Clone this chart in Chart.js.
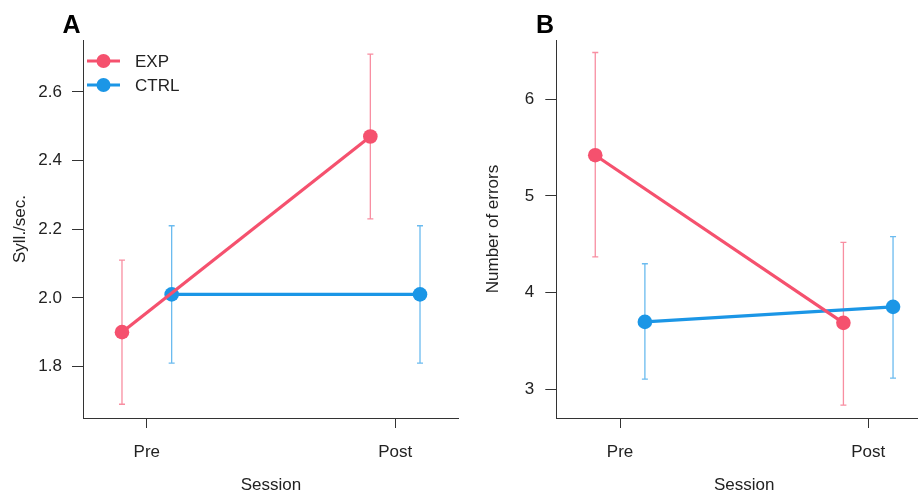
<!DOCTYPE html>
<html>
<head>
<meta charset="utf-8">
<script src="https://cdn.jsdelivr.net/npm/chart.js"></script>
<style>
  html, body { margin: 0; padding: 0; background: #fff; }
  body { width: 918px; height: 491px; overflow: hidden; position: relative; }
  canvas { position: absolute; top: 0; }
  #chartA { left: 0; }
  #chartB { left: 459px; }
</style>
</head>
<body>
<canvas id="chartA" width="459" height="491"></canvas>
<canvas id="chartB" width="473" height="491"></canvas>
<script>
// ===== Data =====
const sessions = ['Pre', 'Post'];
const groups = ['EXP', 'CTRL'];

// Panel A - speech rate (syll./sec.)
const expRate = [1.90, 2.47];
const expRateLow = [1.69, 2.23];
const expRateHigh = [2.11, 2.71];
const ctrlRate = [2.01, 2.01];
const ctrlRateLow = [1.81, 1.81];
const ctrlRateHigh = [2.21, 2.21];
const rateTicks = [1.8, 2.0, 2.2, 2.4, 2.6];

// Panel B - number of errors
const expErrors = [5.42, 3.69];
const expErrorsLow = [4.37, 2.84];
const expErrorsHigh = [6.48, 4.52];
const ctrlErrors = [3.70, 3.855];
const ctrlErrorsLow = [3.11, 3.12];
const ctrlErrorsHigh = [4.30, 4.58];
const errorTicks = [3, 4, 5, 6];

const expColor = '#f5516e';
const ctrlColor = '#1b96e6';
const dodge = 0.1;
const FONT = '"Liberation Sans", Arial, sans-serif';
const TEXT = '#222';
const AXIS = '#333';

Chart.defaults.font.family = FONT;
Chart.defaults.font.size = 17;
Chart.defaults.color = TEXT;

// Error bars drawn under the points
const errorBars = {
  id: 'errorBars',
  beforeDatasetsDraw(chart) {
    const { ctx, scales: { x, y } } = chart;
    chart.data.datasets.forEach(ds => {
      ctx.save();
      ctx.strokeStyle = ds.errorColor;
      ctx.lineWidth = 1.3;
      ds.data.forEach((p, i) => {
        const px = x.getPixelForValue(p.x);
        const top = y.getPixelForValue(ds.high[i]);
        const bot = y.getPixelForValue(ds.low[i]);
        ctx.beginPath();
        ctx.moveTo(px, top); ctx.lineTo(px, bot);
        ctx.moveTo(px - 3, top); ctx.lineTo(px + 3, top);
        ctx.moveTo(px - 3, bot); ctx.lineTo(px + 3, bot);
        ctx.stroke();
      });
      ctx.restore();
    });
  }
};

// Panel letter + legend
const panelExtras = {
  id: 'panelExtras',
  afterDraw(chart, args, opts) {
    const ctx = chart.ctx;
    ctx.save();
    ctx.fillStyle = '#000';
    ctx.font = 'bold 25px ' + FONT;
    ctx.textAlign = 'center';
    ctx.textBaseline = 'alphabetic';
    ctx.fillText(opts.letter, opts.letterX, 33);
    if (opts.legend) {
      chart.data.datasets.forEach((ds, i) => {
        const ly = 61 + i * 24;
        ctx.strokeStyle = ds.borderColor;
        ctx.lineWidth = 3;
        ctx.beginPath();
        ctx.moveTo(87, ly); ctx.lineTo(120, ly);
        ctx.stroke();
        ctx.fillStyle = ds.borderColor;
        ctx.beginPath();
        ctx.arc(103.5, ly, 7, 0, Math.PI * 2);
        ctx.fill();
        ctx.fillStyle = TEXT;
        ctx.font = '17px ' + FONT;
        ctx.textAlign = 'left';
        ctx.textBaseline = 'middle';
        ctx.fillText(ds.label, 135, ly + 1);
      });
    }
    ctx.restore();
  }
};

function series(label, means, low, high, color, offset) {
  return {
    label: label,
    data: means.map((v, i) => ({ x: i + 1 + offset, y: v })),
    low: low,
    high: high,
    borderColor: color,
    backgroundColor: color,
    errorColor: Chart.helpers.color(color).alpha(0.65).rgbString(),
    borderWidth: 3.2,
    pointRadius: 7.3,
    pointBorderWidth: 0,
    pointBackgroundColor: color,
    tension: 0,
    clip: false
  };
}

function makePanel(id, p) {
  return new Chart(document.getElementById(id), {
    type: 'line',
    data: {
      datasets: [
        series(groups[0], p.exp, p.expLow, p.expHigh, expColor, -dodge),
        series(groups[1], p.ctrl, p.ctrlLow, p.ctrlHigh, ctrlColor, dodge)
      ]
    },
    options: {
      responsive: false,
      animation: false,
      layout: { autoPadding: false, padding: { top: 40, left: 0, right: 0, bottom: 0 } },
      plugins: {
        legend: { display: false },
        tooltip: { enabled: false },
        panelExtras: { letter: p.letter, letterX: p.letterX, legend: p.legend }
      },
      scales: {
        x: {
          type: 'linear',
          min: 0.743,
          max: 2.257,
          afterBuildTicks: s => { s.ticks = sessions.map((_, i) => ({ value: i + 1 })); },
          ticks: { callback: v => sessions[v - 1], padding: 14, color: TEXT },
          grid: { drawOnChartArea: false, tickLength: 10, color: AXIS, lineWidth: 1 },
          border: { color: AXIS, width: 1 },
          title: { display: true, text: 'Session', color: TEXT, font: { size: 17, lineHeight: 0.7 }, padding: 0 },
          afterFit: s => { s.height = 73; }
        },
        y: {
          type: 'linear',
          min: p.yMin,
          max: p.yMax,
          afterBuildTicks: s => { s.ticks = p.ticks.map(v => ({ value: v })); },
          ticks: { callback: p.fmt, padding: p.tickPad, color: TEXT },
          grid: { drawOnChartArea: false, tickLength: 11, color: AXIS, lineWidth: 1 },
          border: { color: AXIS, width: 1 },
          title: { display: true, text: p.yTitle, color: TEXT, font: { size: 17 }, padding: { top: p.titlePad, bottom: 0 } },
          afterFit: s => { s.width = p.yWidth; }
        }
      }
    },
    plugins: [errorBars, panelExtras]
  });
}

makePanel('chartA', {
  exp: expRate, expLow: expRateLow, expHigh: expRateHigh,
  ctrl: ctrlRate, ctrlLow: ctrlRateLow, ctrlHigh: ctrlRateHigh,
  ticks: rateTicks, yMin: 1.65, yMax: 2.751, fmt: v => v.toFixed(1),
  yTitle: 'Syll./sec.', yWidth: 83, titlePad: 10, tickPad: 10,
  letter: 'A', letterX: 71.5, legend: true
});

makePanel('chartB', {
  exp: expErrors, expLow: expErrorsLow, expHigh: expErrorsHigh,
  ctrl: ctrlErrors, ctrlLow: ctrlErrorsLow, ctrlHigh: ctrlErrorsHigh,
  ticks: errorTicks, yMin: 2.708, yMax: 6.609, fmt: v => String(v),
  yTitle: 'Number of errors', yWidth: 97.3, titlePad: 24, tickPad: 11,
  letter: 'B', letterX: 86, legend: false
});
</script>
</body>
</html>
